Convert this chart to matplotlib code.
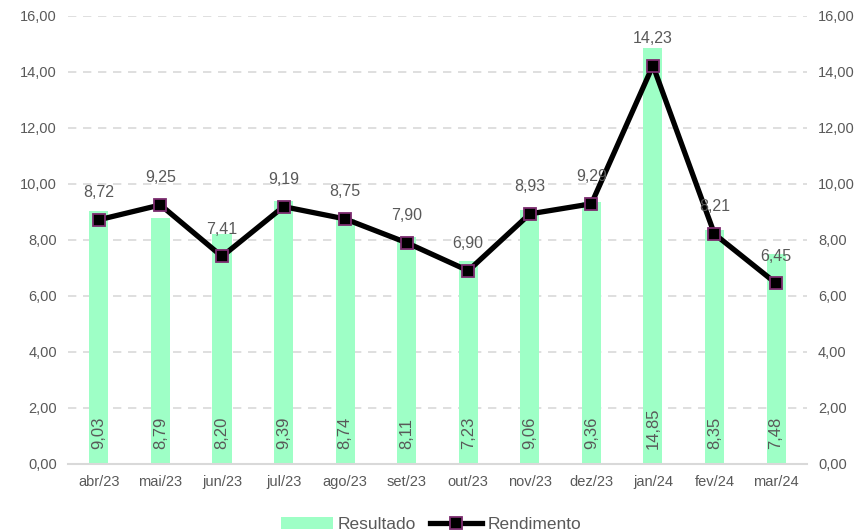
import matplotlib.pyplot as plt
import numpy as np

months = ["abr/23", "mai/23", "jun/23", "jul/23", "ago/23", "set/23",
          "out/23", "nov/23", "dez/23", "jan/24", "fev/24", "mar/24"]
resultado = [9.03, 8.79, 8.20, 9.39, 8.74, 8.11, 7.23, 9.06, 9.36, 14.85, 8.35, 7.48]
rendimento = [8.72, 9.25, 7.41, 9.19, 8.75, 7.90, 6.90, 8.93, 9.29, 14.23, 8.21, 6.45]

BAR_COLOR = "#9effc6"
TEXT_COLOR = "#595959"
GRID_COLOR = "#d9d9d9"


def fmt(v):
    return f"{v:.2f}".replace(".", ",")


plt.rcParams["font.family"] = ["Liberation Sans", "DejaVu Sans"]

fig = plt.figure(figsize=(8.62, 5.32), dpi=100)
ax = fig.add_axes([0.079, 0.128, 0.857, 0.842])
x = np.arange(len(months))

bars = ax.bar(x, resultado, width=0.31, color=BAR_COLOR, zorder=2, label="Resultado")
for xi, v in zip(x, resultado):
    ax.text(xi, 0.55, fmt(v), rotation=90, ha="center", va="bottom",
            fontsize=12, color=TEXT_COLOR, zorder=4)

line, = ax.plot(x, rendimento, color="black", linewidth=3.8, marker="s", markersize=9,
                markerfacecolor="black", markeredgecolor="#7b2c6e", markeredgewidth=1.3,
                zorder=3, label="Rendimento")
for xi, v in zip(x, rendimento):
    ax.text(xi, v + 0.7, fmt(v), ha="center", va="bottom",
            fontsize=11.5, color=TEXT_COLOR, zorder=4)

ax.set_xlim(-0.5, len(months) - 0.5)
ax.set_ylim(0, 16)
yt = np.arange(0, 17, 2)
ax.set_yticks(yt)
ax.set_yticklabels([fmt(t) for t in yt])
ax.set_xticks(x)
ax.set_xticklabels(months)
ax.yaxis.grid(True, color=GRID_COLOR, linestyle=(0, (5, 4)), linewidth=1.2, zorder=0)
ax.set_axisbelow(True)
for s in ["top", "left", "right"]:
    ax.spines[s].set_visible(False)
ax.spines["bottom"].set_color(GRID_COLOR)
ax.spines["bottom"].set_linewidth(1.5)
ax.tick_params(axis="both", length=0, labelsize=10.5, colors=TEXT_COLOR, pad=8)

ax2 = ax.twinx()
ax2.set_ylim(0, 16)
ax2.set_yticks(yt)
ax2.set_yticklabels([fmt(t) for t in yt])
for s in ["top", "left", "right", "bottom"]:
    ax2.spines[s].set_visible(False)
ax2.tick_params(axis="y", length=0, labelsize=10.5, colors=TEXT_COLOR, pad=8)

leg = fig.legend([bars, line], ["Resultado", "Rendimento"], loc="lower center",
                 bbox_to_anchor=(0.5, -0.03), ncol=2, frameon=False, fontsize=12.5,
                 handlelength=3.0, columnspacing=0.8, handletextpad=0.3)
for t in leg.get_texts():
    t.set_color(TEXT_COLOR)

fig.savefig("out.png", dpi=100)
